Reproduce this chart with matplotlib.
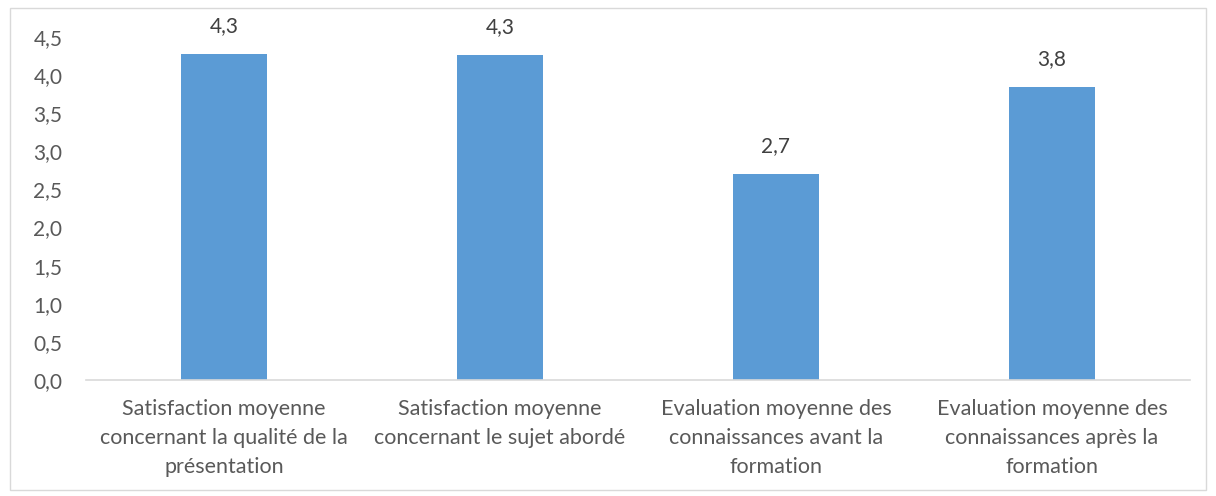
import matplotlib.pyplot as plt
from matplotlib.patches import Rectangle

categories = [
    "Satisfaction moyenne\nconcernant la qualité de la\nprésentation",
    "Satisfaction moyenne\nconcernant le sujet abordé",
    "Evaluation moyenne des\nconnaissances avant la\nformation",
    "Evaluation moyenne des\nconnaissances après la\nformation",
]
values = [4.28, 4.26, 2.70, 3.84]
yticks = [0.0, 0.5, 1.0, 1.5, 2.0, 2.5, 3.0, 3.5, 4.0, 4.5]

plt.rcParams['font.family'] = ['Lato', 'DejaVu Sans']

fig = plt.figure(figsize=(12.16, 4.96), dpi=100)
ax = fig.add_axes([86 / 1216, 1 - 380 / 496, (1190 - 86) / 1216, (380 - 37) / 496])

x = list(range(len(categories)))
ax.bar(x, values, width=0.315, color='#5B9BD5')

for xi, v in zip(x, values):
    ax.annotate(f"{v:.1f}".replace('.', ','), (xi, v), xytext=(0, 13),
                textcoords='offset points', ha='center', va='bottom',
                fontsize=15, color='#404040')

ax.set_xlim(-0.5, len(categories) - 0.5)
ax.set_ylim(0, 4.5)
ax.set_yticks(yticks)
ax.set_yticklabels([f"{t:.1f}".replace('.', ',') for t in yticks])
ax.set_xticks(x)
ax.set_xticklabels(categories, linespacing=1.55, fontsize=15.5)
ax.tick_params(axis='both', length=0, colors='#595959')
ax.tick_params(axis='y', pad=17, labelsize=15)
ax.tick_params(axis='x', pad=14)

for side in ['top', 'right', 'left']:
    ax.spines[side].set_visible(False)
ax.spines['bottom'].set_color('#D9D9D9')
ax.spines['bottom'].set_linewidth(1.2)

fig.patches.append(Rectangle((10 / 1216, 6 / 496), 1196 / 1216, 482 / 496,
                             transform=fig.transFigure, fill=False,
                             edgecolor='#D9D9D9', linewidth=1))

fig.savefig('out.png', dpi=100)
